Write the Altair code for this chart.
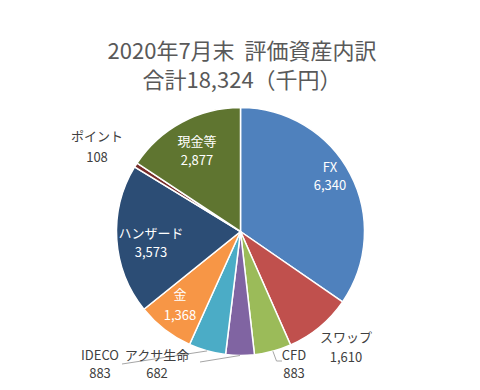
import math
import altair as alt
import pandas as pd

# ---- data ----
categories = ["FX", "スワップ", "CFD", "アクサ生命", "IDECO", "金", "ハンザード", "ポイント", "現金等"]
values = [6340, 1610, 883, 682, 883, 1368, 3573, 108, 2877]
colors = ["#4F81BD", "#C0504D", "#9BBB59", "#8064A2", "#4BACC6",
          "#F79646", "#2C4D75", "#772C2A", "#5F7530"]
title_lines = ["2020年7月末\u00a0\u00a0評価資産内訳", "合計18,324（千円）"]
inside_cats = ["FX", "金", "ハンザード", "現金等"]

# ---- layout (chart pixel coordinates) ----
FONT = "Noto Sans CJK JP"
W, H = 464, 374
CX, CY, R = 232.5, 223.5, 124
label_pos = {  # name line centre (x, y) and value line y
    "FX": (322, 160, 178),
    "スワップ": (338, 330, 350),
    "CFD": (286, 348, 366),
    "アクサ生命": (149, 348, 366),
    "IDECO": (92, 348, 366),
    "金": (172, 287, 308),
    "ハンザード": (143, 226, 245),
    "ポイント": (89, 129, 150),
    "現金等": (189, 134, 153),
}
leader_elbows = {
    "CFD": [(268.5, 353), (274, 353)],
    "アクサ生命": [(192, 354)],
    "IDECO": [(114, 356)],
}

df = pd.DataFrame({"cat": categories, "val": values, "order": list(range(len(categories)))})

total = sum(values)
mid_angle = {}
acc = 0
for c, v in zip(categories, values):
    mid_angle[c] = (acc + v / 2) / total * 2 * math.pi
    acc += v

lab = pd.DataFrame({
    "cat": categories,
    "vstr": [f"{v:,}" for v in values],
    "x": [label_pos[c][0] for c in categories],
    "y1": [label_pos[c][1] for c in categories],
    "y2": [label_pos[c][2] for c in categories],
    "inside": [c in inside_cats for c in categories],
})

rows = []
for c, pts in leader_elbows.items():
    a = mid_angle[c]
    start = (CX + R * math.sin(a), CY - R * math.cos(a))
    for i, (px, py) in enumerate([start] + pts):
        rows.append({"cat": c, "i": i, "x": px, "y": py})
lead = pd.DataFrame(rows)

pie = alt.Chart(df).mark_arc(radius=R, stroke="white", strokeWidth=1.5).encode(
    theta=alt.Theta("val:Q", stack=True),
    color=alt.Color("cat:N", scale=alt.Scale(domain=categories, range=colors), legend=None),
    order=alt.Order("order:Q"),
    x=alt.value(CX),
    y=alt.value(CY),
)

def text_layer(data_filter, color, field, ycol):
    return alt.Chart(lab).transform_filter(data_filter).mark_text(
        font=FONT, fontSize=13, color=color, baseline="middle", align="center"
    ).encode(
        x=alt.X("x:Q", scale=None),
        y=alt.Y(f"{ycol}:Q", scale=None),
        text=alt.Text(f"{field}:N"),
    )

in_names = text_layer("datum.inside", "white", "cat", "y1")
in_vals = text_layer("datum.inside", "white", "vstr", "y2")
out_names = text_layer("!datum.inside", "#404040", "cat", "y1")
out_vals = text_layer("!datum.inside", "#404040", "vstr", "y2")

leaders = alt.Chart(lead).mark_line(color="#A6A6A6", strokeWidth=1).encode(
    x=alt.X("x:Q", scale=None),
    y=alt.Y("y:Q", scale=None),
    detail="cat:N",
    order="i:Q",
)

title = alt.Chart(pd.DataFrame({"t": title_lines, "y": [44, 73]})).mark_text(
    font=FONT, fontSize=22, color="#595959", baseline="middle", align="center"
).encode(
    x=alt.value(234),
    y=alt.Y("y:Q", scale=None),
    text="t:N",
)

chart = alt.layer(pie, leaders, in_names, in_vals, out_names, out_vals, title).properties(
    width=W, height=H, autosize="none", padding=0
).configure_view(stroke=None)

chart.save("out.html", embed_options={"renderer": "svg", "actions": False})
